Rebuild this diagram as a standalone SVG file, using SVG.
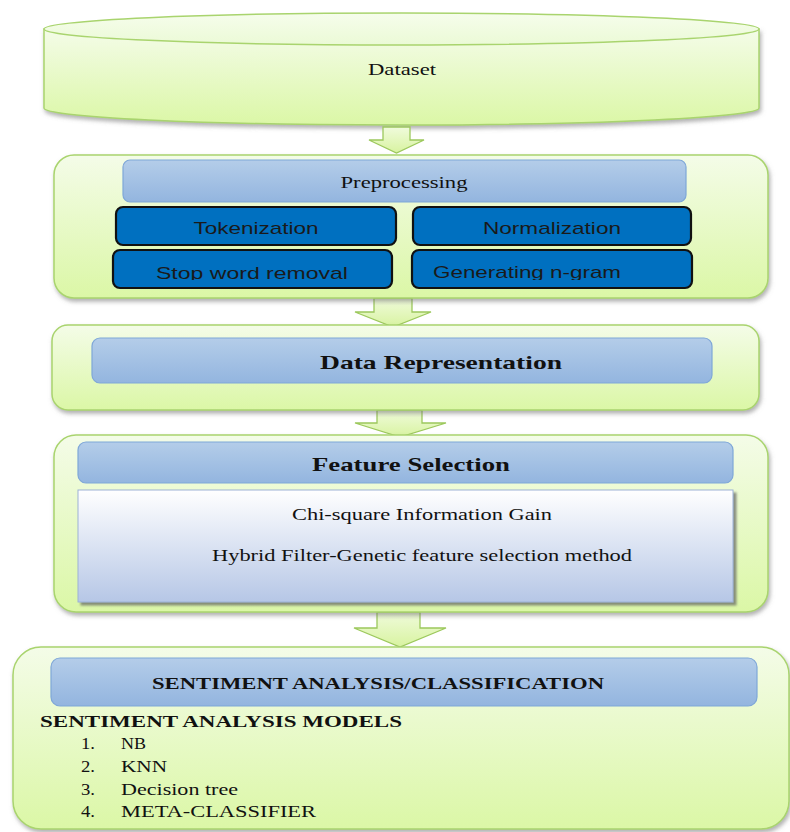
<svg xmlns="http://www.w3.org/2000/svg" width="790" height="832" viewBox="0 0 790 832">
<defs>
<linearGradient id="gGreen" x1="0" y1="0" x2="0" y2="1"><stop offset="0" stop-color="#f4fce8"/><stop offset="1" stop-color="#dbf7a6"/></linearGradient>
<linearGradient id="gTop" x1="0" y1="0" x2="0" y2="1"><stop offset="0" stop-color="#f6fdec"/><stop offset="1" stop-color="#ebfad6"/></linearGradient>
<linearGradient id="gBlue" x1="0" y1="0" x2="0" y2="1"><stop offset="0" stop-color="#b4cde9"/><stop offset="1" stop-color="#93b5df"/></linearGradient>
<linearGradient id="gWhite" x1="0" y1="0" x2="0" y2="1"><stop offset="0" stop-color="#ffffff"/><stop offset="1" stop-color="#b6c7e6"/></linearGradient>
<linearGradient id="gArrow" x1="0" y1="0" x2="0" y2="1"><stop offset="0" stop-color="#f0fbdc"/><stop offset="1" stop-color="#d8f3a0"/></linearGradient>
<filter id="sh" x="-5%" y="-10%" width="110%" height="130%"><feDropShadow dx="1.5" dy="3" stdDeviation="2" flood-color="#707070" flood-opacity="0.55"/></filter>
<filter id="sh2" x="-5%" y="-10%" width="110%" height="130%"><feDropShadow dx="3" dy="3" stdDeviation="1" flood-color="#606060" flood-opacity="0.7"/></filter>
<clipPath id="c1"><rect x="100" y="248" width="600" height="32"/></clipPath>
</defs>
<style>
.cont{fill:url(#gGreen);stroke:#a9d46e;stroke-width:1.5;filter:url(#sh)}
.hdr{fill:url(#gBlue);stroke:#7fa7d8;stroke-width:1.2}
.dk{fill:#0070c0;stroke:#111;stroke-width:2.2}
.arr{fill:url(#gArrow);stroke:#9cc85c;stroke-width:1.3}
.serif{font-family:"Liberation Serif","Times New Roman",serif;fill:#111}
.b{font-weight:bold}
.sans{font-family:"Liberation Sans",Arial,sans-serif;fill:#1a1a1a;font-size:17px}
</style>

<g id="dataset">
<path d="M44,29 L44,108 A357.5,17 0 0 0 759,108 L759,29 Z" class="cont"/>
<ellipse cx="401.5" cy="29" rx="357.5" ry="16" fill="url(#gTop)" stroke="#a9d46e" stroke-width="1.5"/>
<text x="402" y="75" text-anchor="middle" class="serif" font-size="16" textLength="68" lengthAdjust="spacingAndGlyphs">Dataset</text>
</g>

<g id="connectors">
<path class="arr" d="M383,127 L410,127 L410,140 L424,140 L396.5,153 L369,140 L383,140 Z"/>
<path class="arr" d="M374,298 L412,298 L412,312 L431,312 L393,327 L355,312 L374,312 Z"/>
<path class="arr" d="M377,410 L422,410 L422,423 L446,423 L400,437 L355,423 L377,423 Z"/>
<path class="arr" d="M377,612 L420,612 L420,628 L446,628 L400,647 L354,628 L377,628 Z"/>
</g>

<g id="preprocessing">
<rect x="54" y="155" width="714" height="143" rx="20" class="cont"/>
<rect x="123" y="160" width="563" height="42" rx="7" class="hdr"/>
<text x="404" y="188" text-anchor="middle" class="serif" font-size="16" textLength="127" lengthAdjust="spacingAndGlyphs">Preprocessing</text>
</g>

<g id="tokenization">
<rect x="116" y="207" width="280" height="38" rx="7" class="dk"/>
<text x="256" y="234" text-anchor="middle" class="sans" textLength="125" lengthAdjust="spacingAndGlyphs">Tokenization</text>
</g>
<g id="normalization">
<rect x="413" y="207" width="278" height="38" rx="7" class="dk"/>
<text x="552" y="234" text-anchor="middle" class="sans" textLength="138" lengthAdjust="spacingAndGlyphs">Normalization</text>
</g>
<g id="stopword">
<rect x="113" y="250" width="279" height="38" rx="7" class="dk"/>
<text x="252" y="279" text-anchor="middle" class="sans" clip-path="url(#c1)" textLength="192" lengthAdjust="spacingAndGlyphs">Stop word removal</text>
</g>
<g id="ngram">
<rect x="412" y="250" width="280" height="38" rx="7" class="dk"/>
<text x="527" y="278" text-anchor="middle" class="sans" clip-path="url(#c1)" textLength="188" lengthAdjust="spacingAndGlyphs">Generating n-gram</text>
</g>

<g id="datarep">
<rect x="52" y="325" width="707" height="85" rx="16" class="cont"/>
<rect x="92" y="338" width="620" height="45" rx="8" class="hdr"/>
<text x="441" y="369" text-anchor="middle" class="serif b" font-size="19" textLength="242" lengthAdjust="spacingAndGlyphs">Data  Representation</text>
</g>

<g id="featuresel">
<rect x="54" y="435" width="714" height="177" rx="22" class="cont"/>
<rect x="78" y="442" width="655" height="41" rx="8" class="hdr"/>
<text x="411" y="471" text-anchor="middle" class="serif b" font-size="19" textLength="198" lengthAdjust="spacingAndGlyphs">Feature Selection</text>
<rect x="78" y="490" width="655" height="112" fill="url(#gWhite)" stroke="#9db2d6" stroke-width="1" filter="url(#sh2)"/>
<text x="422" y="520" text-anchor="middle" class="serif" font-size="16" textLength="260" lengthAdjust="spacingAndGlyphs">Chi-square Information Gain</text>
<text x="422" y="561" text-anchor="middle" class="serif" font-size="16" textLength="420" lengthAdjust="spacingAndGlyphs">Hybrid Filter-Genetic feature selection method</text>
</g>

<g id="sentiment">
<rect x="13" y="647" width="776" height="182" rx="28" class="cont"/>
<rect x="51" y="658" width="706" height="48" rx="9" class="hdr"/>
<text x="378" y="689" text-anchor="middle" class="serif b" font-size="17" textLength="452" lengthAdjust="spacingAndGlyphs">SENTIMENT ANALYSIS/CLASSIFICATION</text>
<text x="40" y="727" class="serif b" font-size="16" textLength="362" lengthAdjust="spacingAndGlyphs">SENTIMENT  ANALYSIS MODELS</text>
<text x="81" y="749" class="serif" font-size="16" textLength="14" lengthAdjust="spacingAndGlyphs">1.</text><text x="121" y="749" class="serif" font-size="16" textLength="25" lengthAdjust="spacingAndGlyphs">NB</text>
<text x="81" y="772" class="serif" font-size="16" textLength="14" lengthAdjust="spacingAndGlyphs">2.</text><text x="121" y="772" class="serif" font-size="16" textLength="46" lengthAdjust="spacingAndGlyphs">KNN</text>
<text x="81" y="795" class="serif" font-size="16" textLength="14" lengthAdjust="spacingAndGlyphs">3.</text><text x="121" y="795" class="serif" font-size="16" textLength="117" lengthAdjust="spacingAndGlyphs">Decision tree</text>
<text x="81" y="817" class="serif" font-size="16" textLength="14" lengthAdjust="spacingAndGlyphs">4.</text><text x="121" y="817" class="serif" font-size="16" textLength="195" lengthAdjust="spacingAndGlyphs">META-CLASSIFIER</text>
</g>
</svg>
